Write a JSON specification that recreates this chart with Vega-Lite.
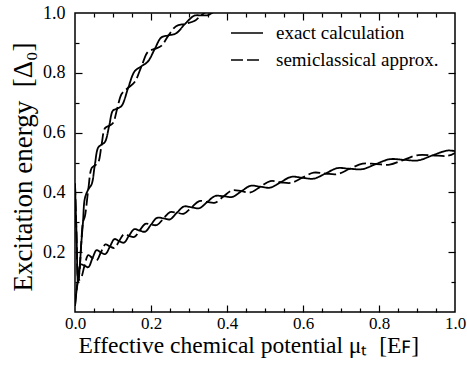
{
  "$schema": "https://vega.github.io/schema/vega-lite/v6.json",
  "width": 380,
  "height": 299,
  "autosize": {"type": "none"},
  "padding": {"left": 75, "top": 13, "right": 12, "bottom": 56},
  "background": "white",
  "config": {
    "view": {"stroke": "black", "strokeWidth": 1.5},
    "font": "Liberation Serif, Times New Roman, serif",
    "axis": {
      "grid": false,
      "domain": false,
      "labelFont": "Liberation Serif, Times New Roman, serif",
      "titleFont": "Liberation Serif, Times New Roman, serif",
      "labelColor": "black",
      "titleColor": "black",
      "tickColor": "black",
      "tickWidth": 1.2,
      "labelFlush": false,
      "labelOverlap": false,
      "labelBound": false,
      "titleFontWeight": "normal"
    }
  },
  "data": {
    "values": [
      {"branch": "lower", "mu": 0.0, "exact": 0.02, "semi": 0.02},
      {"branch": "lower", "mu": 0.004, "exact": 0.07, "semi": 0.07},
      {"branch": "lower", "mu": 0.008, "exact": 0.105, "semi": 0.105},
      {"branch": "lower", "mu": 0.015, "exact": 0.159, "semi": 0.111},
      {"branch": "lower", "mu": 0.025, "exact": 0.155, "semi": 0.155},
      {"branch": "lower", "mu": 0.035, "exact": 0.15, "semi": 0.19},
      {"branch": "lower", "mu": 0.046, "exact": 0.18, "semi": 0.18},
      {"branch": "lower", "mu": 0.057, "exact": 0.207, "semi": 0.173},
      {"branch": "lower", "mu": 0.068, "exact": 0.199, "semi": 0.199},
      {"branch": "lower", "mu": 0.08, "exact": 0.194, "semi": 0.226},
      {"branch": "lower", "mu": 0.092, "exact": 0.219, "semi": 0.219},
      {"branch": "lower", "mu": 0.104, "exact": 0.244, "semi": 0.214},
      {"branch": "lower", "mu": 0.116, "exact": 0.237, "semi": 0.237},
      {"branch": "lower", "mu": 0.129, "exact": 0.232, "semi": 0.26},
      {"branch": "lower", "mu": 0.142, "exact": 0.255, "semi": 0.255},
      {"branch": "lower", "mu": 0.156, "exact": 0.277, "semi": 0.251},
      {"branch": "lower", "mu": 0.17, "exact": 0.272, "semi": 0.272},
      {"branch": "lower", "mu": 0.185, "exact": 0.269, "semi": 0.295},
      {"branch": "lower", "mu": 0.2, "exact": 0.292, "semi": 0.292},
      {"branch": "lower", "mu": 0.216, "exact": 0.315, "semi": 0.291},
      {"branch": "lower", "mu": 0.233, "exact": 0.313, "semi": 0.313},
      {"branch": "lower", "mu": 0.25, "exact": 0.31, "semi": 0.334},
      {"branch": "lower", "mu": 0.268, "exact": 0.332, "semi": 0.332},
      {"branch": "lower", "mu": 0.287, "exact": 0.353, "semi": 0.329},
      {"branch": "lower", "mu": 0.307, "exact": 0.35, "semi": 0.35},
      {"branch": "lower", "mu": 0.327, "exact": 0.347, "semi": 0.371},
      {"branch": "lower", "mu": 0.348, "exact": 0.368, "semi": 0.368},
      {"branch": "lower", "mu": 0.369, "exact": 0.388, "semi": 0.366},
      {"branch": "lower", "mu": 0.391, "exact": 0.387, "semi": 0.387},
      {"branch": "lower", "mu": 0.414, "exact": 0.385, "semi": 0.407},
      {"branch": "lower", "mu": 0.438, "exact": 0.404, "semi": 0.404},
      {"branch": "lower", "mu": 0.462, "exact": 0.422, "semi": 0.4},
      {"branch": "lower", "mu": 0.488, "exact": 0.419, "semi": 0.419},
      {"branch": "lower", "mu": 0.514, "exact": 0.416, "semi": 0.438},
      {"branch": "lower", "mu": 0.541, "exact": 0.434, "semi": 0.434},
      {"branch": "lower", "mu": 0.569, "exact": 0.452, "semi": 0.432},
      {"branch": "lower", "mu": 0.598, "exact": 0.449, "semi": 0.449},
      {"branch": "lower", "mu": 0.628, "exact": 0.446, "semi": 0.466},
      {"branch": "lower", "mu": 0.659, "exact": 0.463, "semi": 0.463},
      {"branch": "lower", "mu": 0.69, "exact": 0.481, "semi": 0.461},
      {"branch": "lower", "mu": 0.723, "exact": 0.479, "semi": 0.479},
      {"branch": "lower", "mu": 0.757, "exact": 0.478, "semi": 0.496},
      {"branch": "lower", "mu": 0.792, "exact": 0.495, "semi": 0.495},
      {"branch": "lower", "mu": 0.828, "exact": 0.511, "semi": 0.493},
      {"branch": "lower", "mu": 0.865, "exact": 0.509, "semi": 0.509},
      {"branch": "lower", "mu": 0.903, "exact": 0.507, "semi": 0.525},
      {"branch": "lower", "mu": 0.941, "exact": 0.524, "semi": 0.524},
      {"branch": "lower", "mu": 0.98, "exact": 0.54, "semi": 0.522},
      {"branch": "lower", "mu": 1.0, "exact": 0.538, "semi": 0.532},
      {"branch": "upper", "mu": 0.0, "exact": 0.43, "semi": 0.43},
      {"branch": "upper", "mu": 0.004, "exact": 0.26, "semi": 0.26},
      {"branch": "upper", "mu": 0.008, "exact": 0.1, "semi": 0.1},
      {"branch": "upper", "mu": 0.012, "exact": 0.14, "semi": 0.14},
      {"branch": "upper", "mu": 0.016, "exact": 0.22, "semi": 0.22},
      {"branch": "upper", "mu": 0.021, "exact": 0.3, "semi": 0.3},
      {"branch": "upper", "mu": 0.026, "exact": 0.38, "semi": 0.32},
      {"branch": "upper", "mu": 0.035, "exact": 0.41, "semi": 0.41},
      {"branch": "upper", "mu": 0.044, "exact": 0.428, "semi": 0.482},
      {"branch": "upper", "mu": 0.052, "exact": 0.49, "semi": 0.49},
      {"branch": "upper", "mu": 0.061, "exact": 0.55, "semi": 0.5},
      {"branch": "upper", "mu": 0.07, "exact": 0.56, "semi": 0.56},
      {"branch": "upper", "mu": 0.079, "exact": 0.569, "semi": 0.615},
      {"branch": "upper", "mu": 0.09, "exact": 0.623, "semi": 0.623},
      {"branch": "upper", "mu": 0.1, "exact": 0.674, "semi": 0.632},
      {"branch": "upper", "mu": 0.111, "exact": 0.68, "semi": 0.68},
      {"branch": "upper", "mu": 0.123, "exact": 0.69, "semi": 0.73},
      {"branch": "upper", "mu": 0.14, "exact": 0.75, "semi": 0.75},
      {"branch": "upper", "mu": 0.157, "exact": 0.805, "semi": 0.769},
      {"branch": "upper", "mu": 0.175, "exact": 0.822, "semi": 0.822},
      {"branch": "upper", "mu": 0.192, "exact": 0.838, "semi": 0.87},
      {"branch": "upper", "mu": 0.21, "exact": 0.88, "semi": 0.88},
      {"branch": "upper", "mu": 0.227, "exact": 0.918, "semi": 0.89},
      {"branch": "upper", "mu": 0.246, "exact": 0.925, "semi": 0.925},
      {"branch": "upper", "mu": 0.266, "exact": 0.932, "semi": 0.956},
      {"branch": "upper", "mu": 0.29, "exact": 0.964, "semi": 0.964},
      {"branch": "upper", "mu": 0.314, "exact": 0.991, "semi": 0.973},
      {"branch": "upper", "mu": 0.332, "exact": 0.992, "semi": 0.992},
      {"branch": "upper", "mu": 0.35, "exact": 0.993, "semi": 1.007},
      {"branch": "upper", "mu": 0.37, "exact": 1.008, "semi": 1.008},
      {"branch": "upper", "mu": 0.39, "exact": 1.02, "semi": 1.01}
    ]
  },
  "transform": [{"fold": ["exact", "semi"], "as": ["method", "energy"]}],
  "layer": [
    {
      "mark": {"type": "line", "interpolate": "catmull-rom", "clip": true, "strokeWidth": 1.8, "color": "black"},
      "encoding": {
        "x": {
          "field": "mu", "type": "quantitative",
          "scale": {"domain": [0, 1], "nice": false, "zero": false},
          "axis": {
            "orient": "bottom", "ticks": false,
            "values": [0, 0.2, 0.4, 0.6, 0.8, 1.0], "format": ".1f",
            "labelFontSize": 17, "labelBaseline": "alphabetic", "labelPadding": 16,
            "title": "Effective chemical potential μₜ\u00a0\u00a0[Eꜰ]",
            "titleFontSize": 23.5, "titleX": 3, "titleY": 40, "titleBaseline": "alphabetic", "titleAlign": "left"
          }
        },
        "y": {
          "field": "energy", "type": "quantitative",
          "scale": {"domain": [0, 1], "nice": false, "zero": false},
          "axis": {
            "orient": "left", "ticks": false,
            "values": [0.2, 0.4, 0.6, 0.8, 1.0], "format": ".1f",
            "labelFontSize": 18, "labelPadding": 10,
            "title": "Excitation energy\u00a0\u00a0[Δ₀]",
            "titleFontSize": 27, "titleX": -44, "titleY": 153.5, "titleBaseline": "alphabetic", "titleAlign": "center", "titleAngle": -90
          }
        },
        "strokeDash": {
          "field": "method", "type": "nominal",
          "scale": {"domain": ["exact", "semi"], "range": [[1, 0], [12, 4]]},
          "legend": {
            "orient": "none", "legendX": 155, "legendY": 3,
            "title": null,
            "labelExpr": "datum.value == 'exact' ? 'exact calculation' : 'semiclassical approx.'",
            "labelFont": "Liberation Serif, Times New Roman, serif", "labelFontSize": 19, "labelColor": "black",
            "labelLimit": 400, "labelOffset": 12, "rowPadding": 0,
            "symbolType": "stroke", "symbolSize": 1024,
            "symbolStrokeColor": "black", "symbolStrokeWidth": 1.5
          }
        },
        "detail": {"field": "branch"}
      }
    },
    {
      "mark": {"type": "point", "opacity": 0},
      "encoding": {
        "x": {"field": "mu", "type": "quantitative", "axis": {"orient": "bottom", "labels": false, "title": null, "values": [0.05, 0.1, 0.15, 0.25, 0.3, 0.35, 0.45, 0.5, 0.55, 0.65, 0.7, 0.75, 0.85, 0.9, 0.95], "tickSize": -4}},
        "y": {"field": "energy", "type": "quantitative", "axis": {"orient": "left", "labels": false, "title": null, "values": [0.1, 0.3, 0.5, 0.7, 0.9], "tickSize": -4}}
      }
    },
    {
      "mark": {"type": "point", "opacity": 0},
      "encoding": {
        "x": {"field": "mu", "type": "quantitative", "axis": {"orient": "bottom", "labels": false, "title": null, "values": [0.2, 0.4, 0.6, 0.8], "tickSize": -7}},
        "y": {"field": "energy", "type": "quantitative", "axis": {"orient": "left", "labels": false, "title": null, "values": [0.2, 0.4, 0.6, 0.8], "tickSize": -7}}
      }
    },
    {
      "mark": {"type": "point", "opacity": 0},
      "encoding": {
        "x": {"field": "mu", "type": "quantitative", "axis": {"orient": "top", "labels": false, "title": null, "values": [0.05, 0.1, 0.15, 0.25, 0.3, 0.35, 0.45, 0.5, 0.55, 0.65, 0.7, 0.75, 0.85, 0.9, 0.95], "tickSize": -4}},
        "y": {"field": "energy", "type": "quantitative", "axis": {"orient": "right", "labels": false, "title": null, "values": [0.1, 0.3, 0.5, 0.7, 0.9], "tickSize": -4}}
      }
    },
    {
      "mark": {"type": "point", "opacity": 0},
      "encoding": {
        "x": {"field": "mu", "type": "quantitative", "axis": {"orient": "top", "labels": false, "title": null, "values": [0.2, 0.4, 0.6, 0.8], "tickSize": -7}},
        "y": {"field": "energy", "type": "quantitative", "axis": {"orient": "right", "labels": false, "title": null, "values": [0.2, 0.4, 0.6, 0.8], "tickSize": -7}}
      }
    }
  ],
  "resolve": {"axis": {"x": "independent", "y": "independent"}}
}
